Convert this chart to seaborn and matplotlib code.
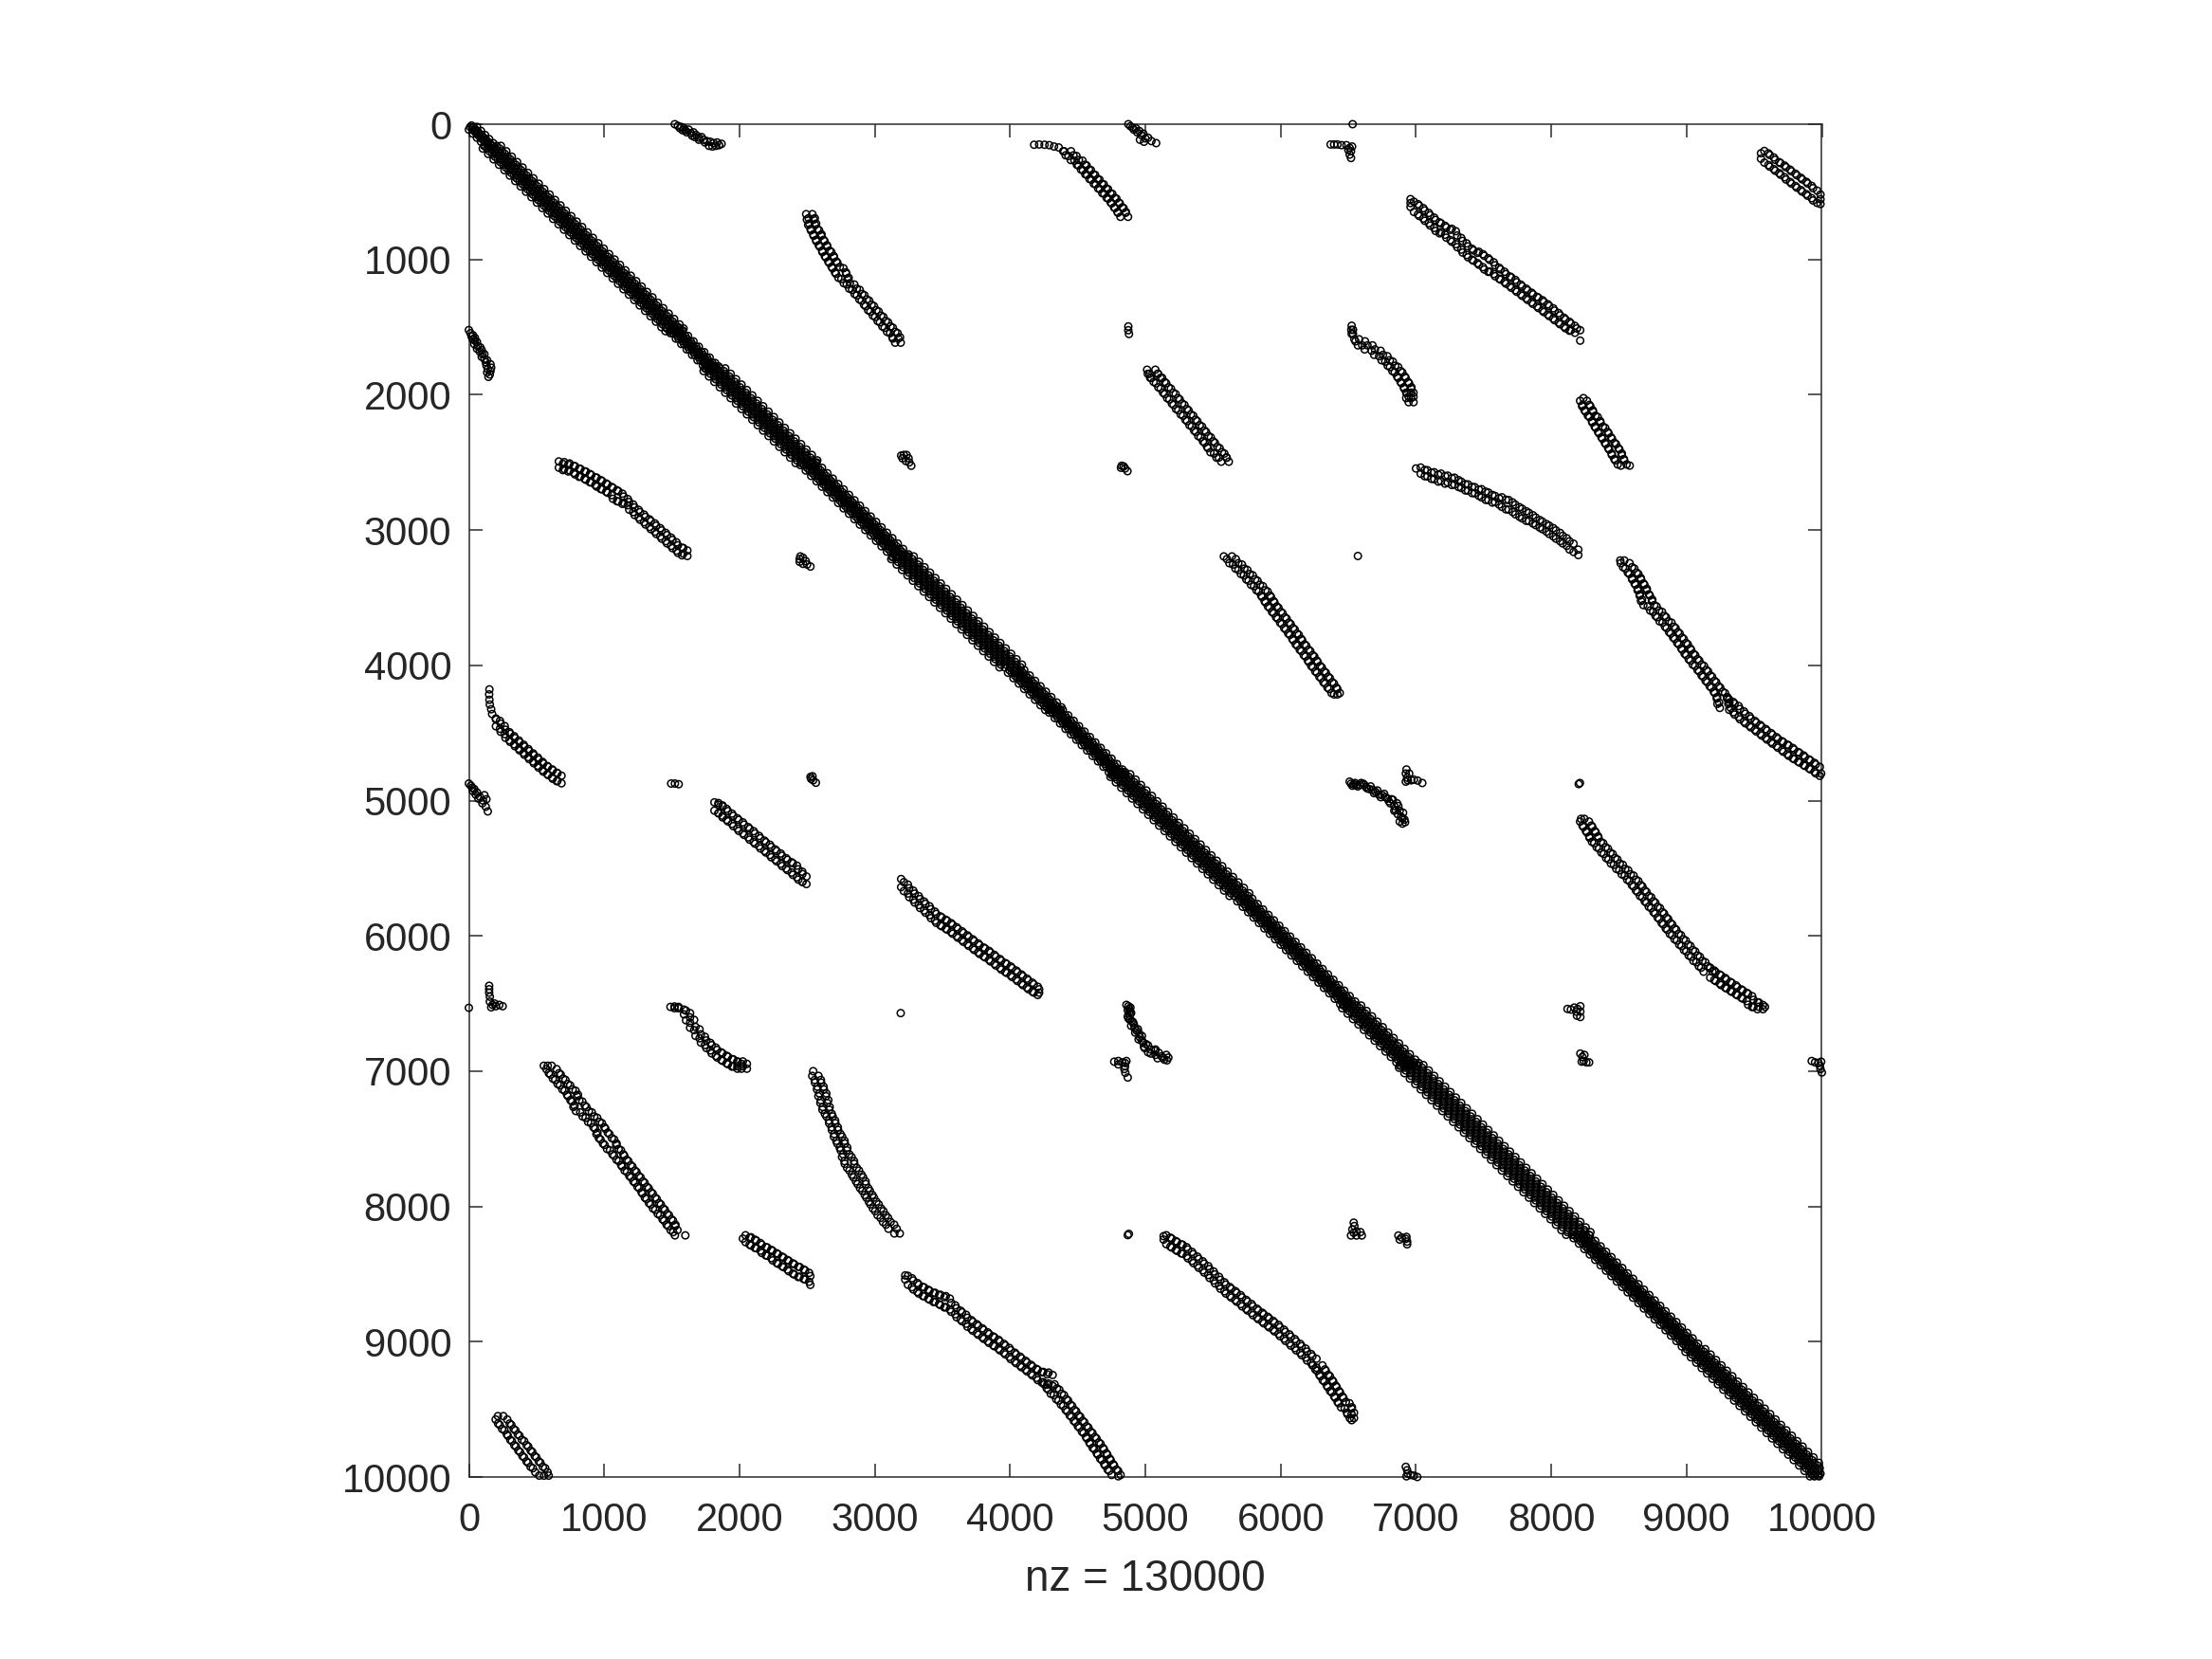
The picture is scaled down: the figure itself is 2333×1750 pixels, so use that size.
import matplotlib
matplotlib.use('Agg')
import matplotlib.pyplot as plt
import numpy as np
import pandas as pd
import seaborn as sns

tick_values = [0, 1000, 2000, 3000, 4000, 5000, 6000, 7000, 8000, 9000, 10000]
x_label = 'nz = 130000'

# Main band: row numbers per block and the column offsets from the diagonal
d0_rows = [0, 30, 60, 90, 120, 150]
d0_offs = [-25, 0, 25]
d1_rows = [170, 210, 250, 290, 330, 370, 410, 450, 490, 530, 570, 610, 650, 690, 730, 770, 810, 850, 890, 930,
           970, 1010, 1050, 1090, 1130, 1170, 1210, 1250, 1290, 1330, 1370, 1410, 1450, 1490, 1520]
d1_offs = [-62, -31, 0, 31, 62]
d2_rows = [1535, 1575, 1615, 1655, 1695, 1735, 1775, 1800]
d2_offs = [-40, -20, 0, 20, 40]
d3_rows = [1815, 1855, 1895, 1935, 1975, 2015, 2055, 2095, 2135, 2175, 2215, 2255, 2295, 2335, 2375, 2415, 2455, 2495]
d3_offs = [-75, -37, 0, 37, 75]
d4_rows = [2510, 2550, 2590, 2630, 2670, 2710, 2750, 2790, 2830, 2870, 2910, 2950, 2990, 3030, 3070, 3110, 3150, 3190]
d4_offs = [-55, -27, 0, 27, 55]
d5_rows = [3205, 3245, 3285, 3325, 3365, 3405, 3445, 3485, 3525, 3565, 3605, 3645, 3685, 3725, 3765, 3805, 3845,
           3885, 3925, 3965, 4005]
d5_offs = [-78, -39, 0, 39, 78]
d6_rows = [4045, 4085, 4125, 4165, 4205, 4245, 4285, 4320]
d6_offs = [-55, -27, 0, 27, 55]
d7_rows = [4340, 4380, 4420, 4460, 4500, 4540, 4580, 4620, 4660, 4700, 4740, 4780, 4800]
d7_offs = [-45, -22, 0, 22, 45]
d8_rows = [4815, 4855, 4895, 4935, 4975, 5015, 5055, 5095, 5135, 5175, 5215, 5255, 5295, 5335, 5375, 5415, 5455,
           5495, 5535, 5575, 5615, 5655, 5695]
d8_offs = [-68, -34, 0, 34, 68]
d9_rows = [5735, 5775, 5815, 5855, 5895, 5935, 5975, 6015, 6055, 6095, 6135, 6175, 6215, 6255, 6295, 6335, 6375,
           6415, 6455, 6495]
d9_offs = [-50, -25, 0, 25, 50]
d10_rows = [6525, 6565, 6605, 6645, 6685, 6725, 6765, 6805, 6845, 6885, 6925, 6950]
d10_offs = [-65, -32, 0, 32, 65]
d11_rows = [6965, 7005, 7045, 7085, 7125, 7165, 7205, 7245, 7285, 7325, 7365, 7405, 7445, 7485, 7525, 7565, 7605,
            7645, 7685, 7725, 7765, 7805, 7845, 7885, 7925, 7965, 8005, 8045, 8085, 8125, 8165, 8200]
d11_offs = [-85, -42, 0, 42, 85]
d12_rows = [8225, 8265, 8305, 8345, 8385, 8425, 8465, 8505, 8545, 8585, 8625, 8665, 8705, 8745, 8785, 8825, 8865,
            8905, 8945, 8985, 9025]
d12_offs = [-55, -27, 0, 27, 55]
d13_rows = [9065, 9105, 9145, 9185, 9225, 9265, 9305, 9345, 9385, 9425, 9465, 9505, 9545, 9585, 9625, 9665, 9705,
            9745, 9785, 9825, 9865, 9905, 9945, 9985, 10000]
d13_offs = [-68, -34, 0, 34, 68]

# Off-diagonal streaks, upper triangle only. The pattern is structurally symmetric so they get mirrored below.
# Loose points
s1_x = [1522, 1545, 1570, 1590, 1600, 1625, 1640, 1660, 1680, 1700, 1720, 1735, 1760, 1785, 1810, 1835, 1868]
s1_y = [0, 12, 20, 30, 45, 40, 65, 60, 80, 100, 95, 115, 125, 130, 140, 135, 145]
s1b_x = [1560, 1580, 1610, 1650, 1670, 1700, 1745, 1775, 1800, 1825, 1850]
s1b_y = [30, 45, 60, 85, 95, 115, 135, 160, 165, 160, 155]
s2a_x = [4178, 4215, 4255, 4290, 4325, 4360, 4400]
s2a_y = [152, 150, 152, 155, 165, 172, 200]
s3_x = [4874, 4890, 4905, 4915, 4930, 4940, 4955, 4970, 4985, 5000, 5020, 5045, 5080, 4960, 4990]
s3_y = [0, 15, 25, 40, 30, 60, 50, 80, 70, 105, 100, 125, 140, 115, 130]
s4_x = [6369, 6395, 6420, 6450, 6486, 6510, 6528, 6500, 6520, 6510, 6520, 6532]
s4_y = [150, 150, 150, 155, 155, 175, 165, 190, 200, 225, 250, 0]
s6_x = [4874, 4874, 4879]
s6_y = [1495, 1523, 1551]
s13_x = [3195, 3215, 3235, 3250, 3205, 3230, 3255, 3270]
s13_y = [2450, 2445, 2445, 2470, 2470, 2490, 2500, 2525]
s14_x = [4825, 4840, 4850, 4868, 4820]
s14_y = [2525, 2530, 2545, 2565, 2540]
s17_x = [6571]
s17_y = [3192]
s19_x = [6510, 6530, 6550, 6570, 6595, 6620, 6640, 6665, 6690, 6715, 6740, 6765, 6790, 6810, 6830, 6850, 6870, 6890,
         6905, 6920, 6880, 6900]
s19_y = [4860, 4890, 4870, 4895, 4870, 4885, 4910, 4895, 4945, 4925, 4975, 4950, 4985, 5020, 4995, 5070, 5040, 5120,
         5090, 5160, 5155, 5170]
s19b_x = [6520, 6540, 6560, 6585, 6610, 6630, 6655, 6680, 6700, 6725, 6750, 6775, 6800, 6820, 6840, 6860, 6880, 6865,
          6900, 6915, 6840]
s19b_y = [4875, 4880, 4885, 4885, 4875, 4900, 4915, 4920, 4935, 4955, 4960, 4975, 5005, 4990, 5040, 5020, 5075, 5100,
          5130, 5140, 5075]
s20_x = [6930, 6925, 6935, 6925, 6950, 6940, 6965, 6985, 7012, 7047]
s20_y = [4770, 4800, 4830, 4860, 4800, 4850, 4850, 4845, 4852, 4870]
s21_x = [8203, 8212]
s21_y = [4878, 4870]
s23a_x = [8120, 8145, 8170, 8195, 8215, 8185, 8215, 8190, 8215]
s23a_y = [6540, 6545, 6530, 6540, 6520, 6560, 6560, 6590, 6600]
s23b_x = [8215, 8230, 8245, 8225, 8240, 8260, 8280]
s23b_y = [6870, 6895, 6880, 6930, 6925, 6935, 6935]
s24_x = [9925, 9950, 9975, 9995, 9985, 9990, 10000]
s24_y = [6925, 6935, 6940, 6930, 6960, 6985, 7010]

# Steep streaks: rows with a left and right column
s2_rows = [215, 250, 285, 320, 355, 390, 425, 460, 495, 530, 565, 600, 635, 670]
s2_left = [4410, 4448, 4493, 4523, 4555, 4586, 4618, 4650, 4681, 4713, 4743, 4768, 4793, 4815]
s2_right = [4452, 4492, 4537, 4567, 4599, 4630, 4662, 4694, 4725, 4757, 4787, 4812, 4840, 4855]
s5_rows = [680, 720, 760, 800, 840, 880, 920, 960, 1000, 1040, 1080, 1120, 1160, 1200, 1240, 1280, 1320, 1360,
           1400, 1440, 1480, 1520, 1560, 1600]
s5_left = [2510, 2515, 2525, 2545, 2565, 2585, 2610, 2630, 2655, 2680, 2705, 2730, 2770, 2810, 2850, 2885, 2920,
           2950, 2985, 3020, 3055, 3090, 3130, 3150]
s5_right = [2540, 2550, 2560, 2590, 2605, 2630, 2650, 2680, 2700, 2725, 2770, 2790, 2800, 2850, 2890, 2925, 2960,
            2995, 3030, 3065, 3100, 3135, 3170, 3175]
s7_rows = [1830, 1860, 1890, 1930, 1970, 2010, 2050, 2090, 2130, 2170, 2210, 2250, 2290, 2330, 2370, 2410, 2450, 2480]
s7_left = [5030, 5035, 5060, 5095, 5130, 5160, 5195, 5225, 5260, 5295, 5325, 5360, 5390, 5425, 5455, 5480, 5525, 5560]
s7_right = [5075, 5095, 5125, 5155, 5190, 5225, 5255, 5290, 5320, 5355, 5385, 5420, 5450, 5485, 5515, 5550, 5585, 5600]
s8_rows = [1620, 1650, 1690, 1730, 1770, 1810, 1850, 1890, 1930, 1970, 2000, 2040]
s8_left = [6570, 6620, 6690, 6745, 6790, 6825, 6860, 6885, 6910, 6930, 6945, 6945]
s8_right = [6625, 6680, 6740, 6790, 6830, 6870, 6900, 6925, 6950, 6965, 6965, 6965]
s8a_x = [6525, 6522, 6535, 6525, 6535, 6545, 6580]
s8a_y = [1490, 1520, 1520, 1550, 1550, 1590, 1590]
s11_rows = [2060, 2100, 2140, 2180, 2220, 2260, 2300, 2340, 2380, 2420, 2460, 2500]
s11_left = [8230, 8245, 8270, 8300, 8320, 8345, 8370, 8395, 8420, 8445, 8465, 8490]
s11_right = [8265, 8290, 8310, 8345, 8365, 8400, 8425, 8450, 8480, 8505, 8520, 8540]
s11a_x = [8238, 8515, 8580]
s11a_y = [2025, 2524, 2524]
s16_rows = [3230, 3270, 3310, 3350, 3390, 3430, 3470, 3510, 3550, 3590, 3630, 3670, 3710, 3750, 3790, 3830, 3870,
            3910, 3950, 3990, 4030, 4070, 4110, 4150, 4190]
s16_left = [5620, 5665, 5705, 5745, 5780, 5820, 5855, 5880, 5905, 5935, 5965, 5995, 6025, 6055, 6085, 6110, 6140,
            6170, 6200, 6225, 6255, 6285, 6315, 6345, 6375]
s16_right = [5670, 5715, 5755, 5795, 5830, 5870, 5905, 5930, 5955, 5985, 6015, 6045, 6075, 6105, 6135, 6160, 6190,
             6220, 6250, 6275, 6305, 6335, 6365, 6395, 6420]
s16a_x = [5580, 5640, 6395, 6420]
s16a_y = [3195, 3195, 4215, 4215]
s18_rows = [3260, 3300, 3340, 3380, 3420, 3460, 3500, 3540, 3580, 3620, 3660, 3700, 3740, 3780, 3820, 3860, 3900,
            3940, 3980, 4020, 4060, 4100, 4140, 4180, 4220, 4260, 4300]
s18_left = [8530, 8565, 8595, 8615, 8640, 8655, 8670, 8680, 8730, 8770, 8800, 8840, 8870, 8900, 8930, 8960, 8985,
            9015, 9045, 9080, 9110, 9140, 9170, 9200, 9225, 9240, 9245]
s18_right = [8580, 8615, 8645, 8665, 8690, 8705, 8730, 8745, 8780, 8820, 8850, 8890, 8920, 8950, 8980, 9010, 9035,
             9065, 9095, 9130, 9160, 9190, 9220, 9250, 9285, 9300, 9310]
s18a_x = [8510, 8540]
s18a_y = [3225, 3225]
s22_rows = [5170, 5210, 5250, 5290, 5330, 5370, 5410, 5450, 5490, 5530, 5570, 5610, 5650, 5690, 5730, 5770, 5810,
            5850, 5890, 5930, 5970, 6010, 6050, 6090, 6130, 6170, 6210, 6250]
s22_left = [8230, 8255, 8280, 8300, 8335, 8370, 8405, 8440, 8480, 8520, 8560, 8595, 8625, 8655, 8690, 8720, 8755,
            8785, 8815, 8845, 8875, 8910, 8945, 8980, 9015, 9050, 9090, 9125]
s22_right = [8280, 8305, 8330, 8350, 8385, 8420, 8455, 8490, 8530, 8570, 8610, 8645, 8675, 8705, 8740, 8770, 8805,
             8835, 8865, 8895, 8925, 8960, 8995, 9030, 9065, 9100, 9140, 9175]
s22a_x = [8220, 8245]
s22a_y = [5135, 5135]

# Flat streaks: columns with a top and bottom row
s9_cols = [7000, 7040, 7080, 7120, 7160, 7200, 7240, 7280, 7320, 7360, 7400, 7440, 7480, 7520, 7560, 7600, 7640,
           7680, 7720, 7760, 7800, 7840, 7880, 7920, 7960, 8000, 8040, 8080, 8120, 8160]
s9_top = [590, 620, 655, 690, 725, 750, 780, 790, 840, 880, 920, 950, 960, 990, 1020, 1060, 1090,
          1125, 1150, 1185, 1215, 1245, 1275, 1300, 1330, 1360, 1395, 1430, 1460, 1490]
s9_bottom = [650, 680, 715, 750, 790, 800, 840, 870, 910, 950, 985, 1010, 1040, 1075, 1090, 1125, 1150,
             1180, 1210, 1240, 1270, 1300, 1330, 1360, 1390, 1420, 1450, 1480, 1510, 1525]
s9a_x = [6960, 6960, 6960, 8190, 8214, 8214]
s9a_y = [554, 583, 612, 1510, 1523, 1600]
s10_cols = [9590, 9630, 9670, 9710, 9750, 9790, 9830, 9870, 9910, 9950]
s10_top = [215, 245, 280, 305, 335, 365, 395, 425, 455, 490]
s10_bottom = [285, 315, 345, 375, 410, 440, 470, 500, 530, 565]
s10a_x = [9550, 9550, 9990, 9990, 9990]
s10a_y = [215, 255, 520, 555, 590]
s12_cols = [7050, 7100, 7150, 7200, 7250, 7300, 7350, 7400, 7450, 7500, 7550, 7600, 7650, 7700, 7750, 7800, 7850,
            7900, 7950, 8000, 8050, 8100, 8150]
s12_top = [2555, 2575, 2590, 2600, 2615, 2630, 2660, 2680, 2700, 2715, 2740, 2765, 2775, 2795, 2830, 2860, 2890,
           2925, 2955, 2985, 3020, 3060, 3100]
s12_bottom = [2585, 2605, 2625, 2640, 2650, 2665, 2690, 2710, 2730, 2760, 2780, 2795, 2830, 2850, 2885, 2915, 2935,
              2965, 2995, 3030, 3065, 3100, 3145]
s12a_x = [7000, 8200, 8200]
s12a_y = [2545, 3145, 3185]
s18b_cols = [9330, 9370, 9410, 9450, 9490, 9530, 9570, 9610, 9650, 9690, 9730, 9770, 9810, 9850, 9890, 9930, 9970]
s18b_top = [4270, 4300, 4340, 4375, 4410, 4440, 4470, 4500, 4530, 4560, 4585, 4610, 4640, 4665, 4695, 4720, 4750]
s18b_bottom = [4330, 4365, 4400, 4430, 4460, 4490, 4520, 4550, 4580, 4610, 4640, 4670, 4695, 4720, 4745, 4770, 4800]
s18c_x = [9995]
s18c_y = [4800]
s22b_cols = [9190, 9230, 9270, 9310, 9350, 9390, 9430, 9470, 9510, 9550]
s22b_top = [6255, 6285, 6310, 6340, 6365, 6395, 6420, 6445, 6490, 6510]
s22b_bottom = [6310, 6335, 6365, 6390, 6415, 6440, 6465, 6510, 6525, 6525]
s22c_x = [9580]
s22c_y = [6525]

# Small shifts that thicken the lattice: along the band, along steep streaks, along flat streaks
band_dx = [-5, 5]
band_dy = [10, -10]
steep_dx = [-9, 9]
steep_dy = [-15, 15]
flat_dx = [-15, 15]
flat_dy = [-9, 9]
spread = 8

cols, rows = [], []
for r_list, offs in [(d0_rows, d0_offs), (d1_rows, d1_offs), (d2_rows, d2_offs), (d3_rows, d3_offs),
                     (d4_rows, d4_offs), (d5_rows, d5_offs), (d6_rows, d6_offs), (d7_rows, d7_offs),
                     (d8_rows, d8_offs), (d9_rows, d9_offs), (d10_rows, d10_offs), (d11_rows, d11_offs),
                     (d12_rows, d12_offs), (d13_rows, d13_offs)]:
    for r in r_list:
        for o in offs:
            for dx, dy in zip(band_dx, band_dy):
                if 0 <= r + o + dx <= 10000 and 0 <= r + dy <= 10000:
                    cols.append(r + o + dx)
                    rows.append(r + dy)

up_x, up_y = [], []
for xs, ys in [(s1_x, s1_y), (s1b_x, s1b_y), (s2a_x, s2a_y), (s3_x, s3_y), (s4_x, s4_y), (s6_x, s6_y), (s13_x, s13_y),
               (s14_x, s14_y), (s17_x, s17_y), (s19_x, s19_y), (s19b_x, s19b_y), (s20_x, s20_y), (s21_x, s21_y),
               (s23a_x, s23a_y), (s23b_x, s23b_y), (s24_x, s24_y), (s8a_x, s8a_y), (s11a_x, s11a_y),
               (s16a_x, s16a_y), (s18a_x, s18a_y), (s22a_x, s22a_y), (s9a_x, s9a_y), (s10a_x, s10a_y),
               (s12a_x, s12a_y), (s18c_x, s18c_y), (s22c_x, s22c_y)]:
    up_x += xs
    up_y += ys
for r_list, left, right in [(s2_rows, s2_left, s2_right), (s5_rows, s5_left, s5_right), (s7_rows, s7_left, s7_right),
                            (s8_rows, s8_left, s8_right), (s11_rows, s11_left, s11_right),
                            (s16_rows, s16_left, s16_right), (s18_rows, s18_left, s18_right),
                            (s22_rows, s22_left, s22_right)]:
    for dx, dy in zip(steep_dx, steep_dy):
        up_x += [v + dx - spread for v in left] + [v + dx + spread for v in right]
        up_y += [v + dy for v in r_list + r_list]
for c_list, top, bottom in [(s9_cols, s9_top, s9_bottom), (s10_cols, s10_top, s10_bottom),
                            (s12_cols, s12_top, s12_bottom), (s18b_cols, s18b_top, s18b_bottom),
                            (s22b_cols, s22b_top, s22b_bottom)]:
    for dx, dy in zip(flat_dx, flat_dy):
        up_x += [v + dx for v in c_list + c_list]
        up_y += [v + dy - spread for v in top] + [v + dy + spread for v in bottom]

df = pd.DataFrame({'col': cols + up_x + up_y, 'row': rows + up_y + up_x})

sns.set_theme(style='white')
plt.rcParams['font.family'] = ['Liberation Sans', 'DejaVu Sans']

fig = plt.figure(figsize=(2333 / 300, 1750 / 300), dpi=300, facecolor='white')
ax = fig.add_axes([494.5 / 2333, (1750 - 1558) / 1750, 1427 / 2333, 1427 / 1750])

sns.scatterplot(data=df, x='col', y='row', ax=ax, marker='o', s=3.2, facecolors='none', edgecolors='black',
                linewidth=0.36, clip_on=False, zorder=5, legend=False)

ax.set_xlim(0, 10000)
ax.set_ylim(10000, 0)
ax.set_xticks(tick_values)
ax.set_yticks(tick_values)
ax.tick_params(direction='in', length=3.4, width=0.36, color='#262626', labelcolor='#262626', labelsize=10,
               top=True, right=True, bottom=True, left=True)
ax.tick_params(axis='x', pad=6.2)
ax.tick_params(axis='y', pad=4.4)
for side in ax.spines.values():
    side.set_linewidth(0.36)
    side.set_color('#262626')
ax.set_xlabel(x_label, fontsize=11, color='#262626', labelpad=4.9)
ax.set_ylabel('')

fig.savefig('out.png', dpi=300, facecolor='white')
